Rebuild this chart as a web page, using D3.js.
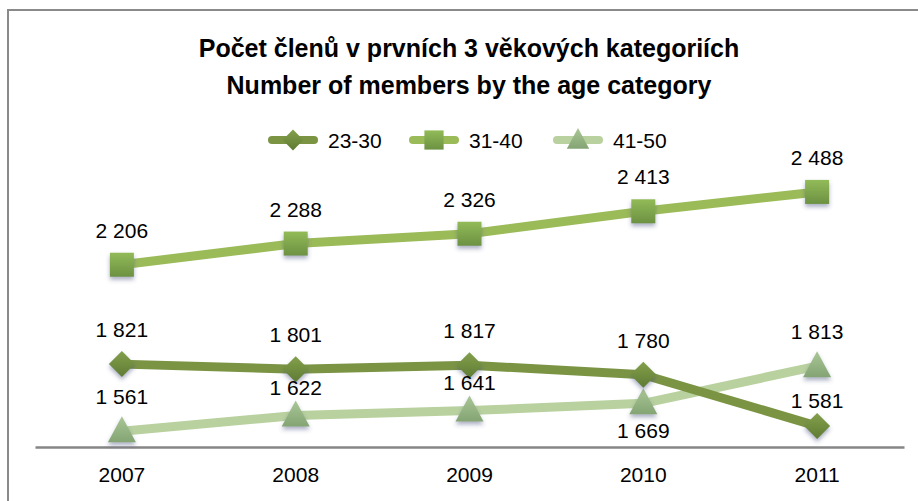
<!DOCTYPE html>
<html>
<head>
<meta charset="utf-8">
<script src="https://cdn.jsdelivr.net/npm/d3@7"></script>
<style>
  body { margin: 0; background: #fff; }
  text { font-family: "Liberation Sans", Arial, sans-serif; }
</style>
</head>
<body>
<div id="the_chart"></div>
<script>
var years = ["2007", "2008", "2009", "2010", "2011"];
var seriesNames = ["23-30", "31-40", "41-50"];
var values2330 = [1821, 1801, 1817, 1780, 1581];
var values3140 = [2206, 2288, 2326, 2413, 2488];
var values4150 = [1561, 1622, 1641, 1669, 1813];
var titleLines = ["Počet členů v prvních 3 věkových kategoriích", "Number of members by the age category"];

var w = 918, h = 501;
var padLeft = 35, padRight = 904, axisY = 447, plotTop = 163;

var series = [
  {name: seriesNames[0], values: values2330, line: "#7b9444", c1: "#83a04b", c2: "#5f7b34", shape: "diamond"},
  {name: seriesNames[1], values: values3140, line: "#9bbb59", c1: "#92bb58", c2: "#6c9142", shape: "square"},
  {name: seriesNames[2], values: values4150, line: "#b9d19f", c1: "#a9c696", c2: "#84a473", shape: "triangle"}
];

var svg = d3.select("#the_chart").append("svg")
    .attr("width", w)
    .attr("height", h);

var defs = svg.append("defs");
series.forEach(function(s, i) {
  var g = defs.append("linearGradient").attr("id", "grad" + i)
      .attr("x1", 0).attr("y1", 0).attr("x2", 0).attr("y2", 1);
  g.append("stop").attr("offset", "0%").attr("stop-color", s.c1);
  g.append("stop").attr("offset", "100%").attr("stop-color", s.c2);
});
var f = defs.append("filter").attr("id", "shadow")
    .attr("x", "-50%").attr("y", "-50%").attr("width", "200%").attr("height", "200%");
f.append("feDropShadow").attr("dx", 0).attr("dy", 3).attr("stdDeviation", 2)
    .attr("flood-color", "#46507a").attr("flood-opacity", 0.45);

// border (top + left only, as in the picture)
svg.append("path")
    .attr("d", "M8," + h + "V10H" + w)
    .attr("fill", "none")
    .attr("stroke", "#8a8a8a")
    .attr("stroke-width", 2);

// title
svg.append("g").selectAll("text")
    .data(titleLines)
  .enter().append("text")
    .attr("x", 469)
    .attr("y", function(d, i) { return 57 + i * 37; })
    .attr("text-anchor", "middle")
    .attr("font-size", 25)
    .attr("font-weight", "bold")
    .attr("fill", "#000")
    .text(function(d) { return d; });

var xscale = d3.scaleBand().domain(years).range([padLeft, padRight]);
var yscale = d3.scaleLinear().domain([1500, 2600]).range([axisY, plotTop]);

var xaxis = d3.axisBottom(xscale).tickSize(0).tickPadding(20);
var gX = svg.append("g")
    .attr("transform", "translate(0," + axisY + ")")
    .call(xaxis);
gX.select(".domain").attr("stroke", "#868686").attr("stroke-width", 2.5);
gX.selectAll("text")
    .attr("font-size", 21)
    .attr("fill", "#000")
    .style("font-family", "Liberation Sans, Arial, sans-serif");

function cx(i) { return xscale(years[i]) + xscale.bandwidth() / 2; }

function marker(sel, shape, fill) {
  if (shape === "diamond") {
    sel.append("path").attr("d", "M0,-13L13,0L0,13L-13,0Z");
  } else if (shape === "square") {
    sel.append("rect").attr("x", -12).attr("y", -12).attr("width", 24).attr("height", 24);
  } else {
    sel.append("path").attr("d", "M0,-15L14,11L-14,11Z");
  }
  sel.selectAll("path,rect").attr("fill", fill).attr("filter", "url(#shadow)");
}

var line = d3.line()
    .x(function(d, i) { return cx(i); })
    .y(function(d) { return yscale(d); });

// draw lines from lowest layer to top (41-50 bottom, then 23-30, then 31-40)
[2, 0, 1].forEach(function(k) {
  var s = series[k];
  var g = svg.append("g");
  g.append("path")
      .datum(s.values)
      .attr("d", line)
      .attr("fill", "none")
      .attr("stroke", s.line)
      .attr("stroke-width", 9)
      .attr("stroke-linejoin", "round");
  g.selectAll("g.m")
      .data(s.values)
    .enter().append("g")
      .attr("class", "m")
      .attr("transform", function(d, i) { return "translate(" + cx(i) + "," + yscale(d) + ")"; })
      .each(function() { marker(d3.select(this), s.shape, "url(#grad" + k + ")"); });
});

// data labels
var fmt = function(v) { return d3.format(",")(v).replace(/,/g, " "); };
series.forEach(function(s, k) {
  svg.append("g").selectAll("text")
      .data(s.values)
    .enter().append("text")
      .attr("x", function(d, i) { return cx(i); })
      .attr("y", function(d, i) {
        if (k === 2 && i === 3) return yscale(d) + 35;
        if (k === 0 && i === 4) return yscale(d) - 18;
        if (k === 2 && (i === 1 || i === 2)) return yscale(d) - 21;
        return yscale(d) - 27;
      })
      .attr("text-anchor", "middle")
      .attr("font-size", 21)
      .attr("fill", "#000")
      .text(fmt);
});

// legend
var lx = [268, 409, 553];
var legend = svg.append("g");
series.forEach(function(s, k) {
  var g = legend.append("g").attr("transform", "translate(" + lx[k] + ",140)");
  g.append("line")
      .attr("x1", 4).attr("x2", 46)
      .attr("stroke", s.line)
      .attr("stroke-width", 8)
      .attr("stroke-linecap", "round");
  var m = g.append("g").attr("transform", "translate(25,0) scale(0.8)");
  marker(m, s.shape, "url(#grad" + k + ")");
  m.selectAll("path,rect").attr("filter", null);
  g.append("text")
      .attr("x", 60)
      .attr("y", 8)
      .attr("font-size", 21)
      .attr("fill", "#000")
      .text(s.name);
});
</script>
</body>
</html>
